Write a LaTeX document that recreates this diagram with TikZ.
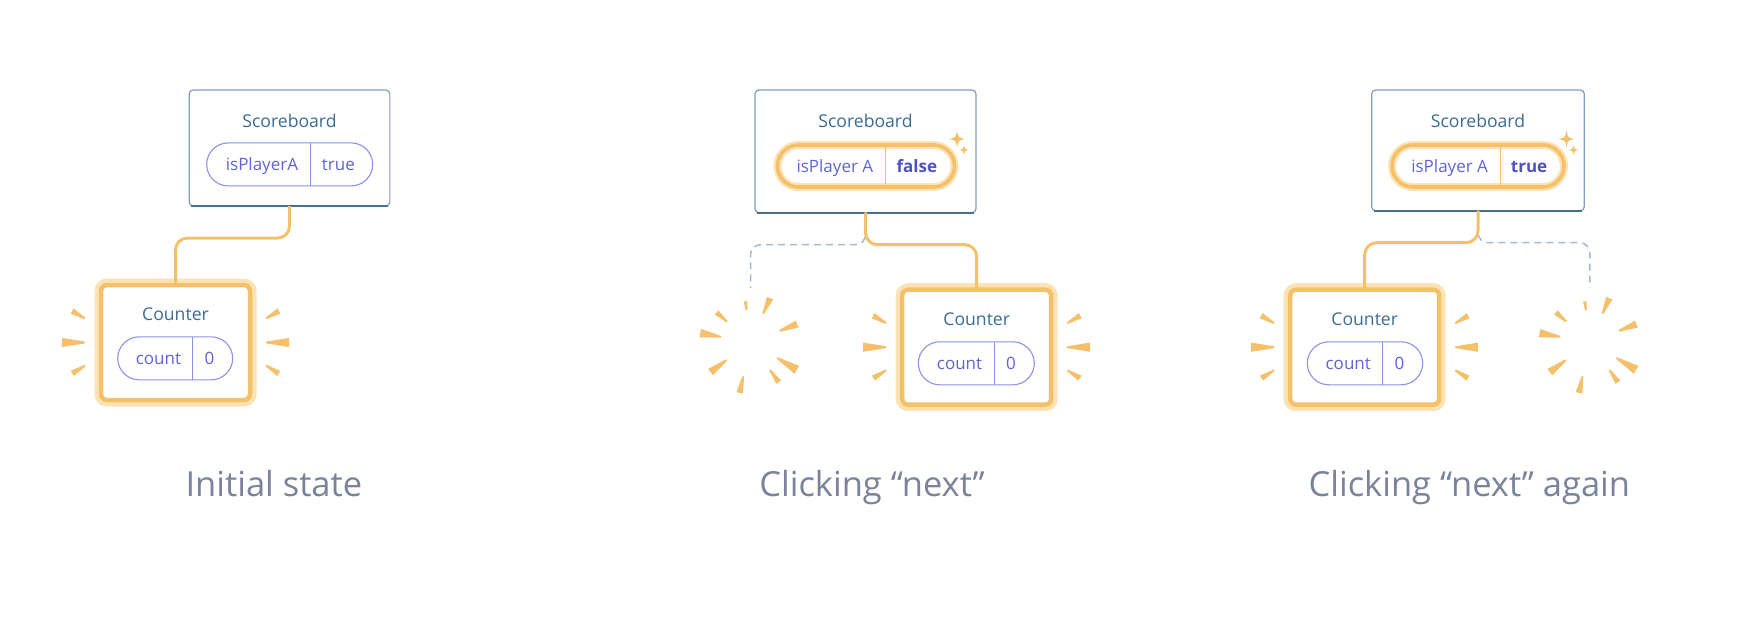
\documentclass[tikz,border=0pt]{standalone}
\usepackage{fontspec}
\setmainfont{Open Sans}
\usetikzlibrary{positioning, calc}

\definecolor{sbline}{HTML}{7F9DBB}
\definecolor{sbdark}{HTML}{46708F}
\definecolor{titleblue}{HTML}{3B6C94}
\definecolor{pillline}{HTML}{8E92E4}
\definecolor{pilltext}{HTML}{6064D6}
\definecolor{pillbold}{HTML}{4F52C2}
\definecolor{glowor}{HTML}{F4C16A}
\definecolor{glowlight}{HTML}{FBE3B5}
\definecolor{ghostline}{HTML}{9EBBD6}
\definecolor{captiongray}{HTML}{7A8399}

\newcommand{\titlefont}{\fontsize{17.6pt}{21pt}\selectfont}
\newcommand{\pillfont}{\fontsize{17pt}{20pt}\selectfont}
\newcommand{\capfont}{\fontsize{34.5pt}{40pt}\selectfont}

\newcommand{\burstray}[4]{\fill[spark, shift={#1}, rotate=#2] (#3,-0.9) -- (#4,{-0.2*(#4-#3)}) -- (#4,{0.2*(#4-#3)}) -- (#3,0.9) -- cycle;}
\newcommand{\sparkle}[2]{\fill[spark, shift={#1}] (0,-#2) .. controls ({0.18*#2},{-0.18*#2}) .. (#2,0) .. controls ({0.18*#2},{0.18*#2}) .. (0,#2) .. controls ({-0.18*#2},{0.18*#2}) .. (-#2,0) .. controls ({-0.18*#2},{-0.18*#2}) .. (0,-#2) -- cycle;}

\begin{document}
\begin{tikzpicture}[x=1pt, y=-1pt,
		sbbox/.style={rectangle, draw=sbline, fill=white, line width=1.2pt, rounded corners=4pt, inner sep=0pt, outer sep=0pt, anchor=north},
		sbbase/.style={draw=sbdark, line width=2.2pt},
		ctrbox/.style={rectangle, draw=glowor, fill=white, line width=4.5pt, rounded corners=6pt, preaction={draw=glowlight, line width=13pt}, inner sep=0pt, outer sep=0pt, minimum width=149pt, minimum height=115pt},
		title/.style={inner sep=0pt, text height=12.5pt, text depth=0pt, font=\titlefont, text=titleblue},
		pillcell/.style={inner sep=0pt, outer sep=0pt, minimum height=43pt, text height=12.1pt, text depth=0pt, font=\pillfont, text=pilltext},
		pillkey/.style={pillcell, execute at begin node=\hspace*{6.5pt}},
		pillval/.style={pillcell, execute at end node=\hspace*{6.5pt}},
		hotval/.style={pillval, font=\pillfont\bfseries, text=pillbold},
		pillring/.style={draw=pillline, line width=1.1pt, rounded corners=21.5pt},
		hotring/.style={draw=glowor, line width=3.6pt, rounded corners=21pt, preaction={draw=glowlight, line width=8pt}},
		pilldiv/.style={draw=pillline, line width=1.1pt},
		hotdiv/.style={draw=glowor, line width=1pt},
		wire/.style={draw=glowor, line width=3pt, rounded corners=12pt},
		ghostwire/.style={draw=ghostline, line width=1.5pt, dash pattern=on 7pt off 5pt, rounded corners=10pt},
		spark/.style={fill=glowor},
		caption/.style={inner sep=0pt, text height=24pt, text depth=0pt, font=\capfont, text=captiongray}
	]

	\useasboundingbox (0,0) rectangle (1738,622);

	\node[sbbox, minimum width=200.7pt, minimum height=116pt] (sb1) at (289.5,90) {};
	\node[title, below=24.3pt of sb1.north] (sbt1) {Scoreboard};
	\node[pillkey, minimum width=104pt, anchor=east] (k1) at (310.7,164.4) {isPlayerA};
	\node[pillval, minimum width=62pt, right=0pt of k1] (v1) {true};
	\node[ctrbox] (ctr1) at (175.5,342.5) {};
	\node[title, below=22.7pt of ctr1.north] (ctrt1) {Counter};
	\node[pillkey, minimum width=75pt, anchor=east] (ck1) at (192.7,358.3) {count};
	\node[pillval, minimum width=40pt, right=0pt of ck1] (cv1) {0};
	\node[caption] (cap1) at (273.9,484) {Initial state};

	\node[sbbox, minimum width=221pt, minimum height=122.7pt] (sb2) at (865.5,90) {};
	\node[title, below=24.3pt of sb2.north] (sbt2) {Scoreboard};
	\node[pillkey, minimum width=108.2pt, minimum height=42pt, anchor=east] (k2) at (885.7,166) {isPlayer A};
	\node[hotval, minimum width=68.8pt, minimum height=42pt, right=0pt of k2] (v2) {false};
	\node[ctrbox] (ctr2) at (976.7,347.2) {};
	\node[title, below=22.7pt of ctr2.north] (ctrt2) {Counter};
	\node[pillkey, minimum width=76pt, anchor=east] (ck2) at (994.3,363.3) {count};
	\node[pillval, minimum width=40pt, right=0pt of ck2] (cv2) {0};
	\coordinate (gh2) at (750.5,342);
	\coordinate[above=54pt of gh2] (ghtop2);
	\node[caption] (cap2) at (872,484) {Clicking “next”};

	\node[sbbox, minimum width=212.6pt, minimum height=120.7pt] (sb3) at (1478,90) {};
	\node[title, below=24.3pt of sb3.north] (sbt3) {Scoreboard};
	\node[pillkey, minimum width=108.7pt, minimum height=42pt, anchor=east] (k3) at (1500.7,166) {isPlayer A};
	\node[hotval, minimum width=63.3pt, minimum height=42pt, right=0pt of k3] (v3) {true};
	\node[ctrbox] (ctr3) at (1364.7,347.2) {};
	\node[title, below=22.7pt of ctr3.north] (ctrt3) {Counter};
	\node[pillkey, minimum width=75.4pt, anchor=east] (ck3) at (1382.7,363.3) {count};
	\node[pillval, minimum width=40pt, right=0pt of ck3] (cv3) {0};
	\coordinate (gh3) at (1589.8,342);
	\coordinate[above=54pt of gh3] (ghtop3);
	\node[caption] (cap3) at (1469.3,484) {Clicking “next” again};

	\foreach \i in {sb1, sb2, sb3}
		\draw[sbbase] ([xshift=2pt]\i.south west) -- ([xshift=-2pt]\i.south east);

	\foreach \i/\j in {k1/v1, ck1/cv1, ck2/cv2, ck3/cv3} {
		\draw[pillring] (\i.north west) rectangle (\j.south east);
		\draw[pilldiv] (\i.north east) -- (\i.south east);
	}

	\foreach \i/\j in {k2/v2, k3/v3} {
		\draw[hotring] (\i.north west) rectangle (\j.south east);
		\draw[hotdiv] (\i.north east) -- (\i.south east);
		\sparkle{($(\j.north east)+(2.5,-6)$)}{8}
		\sparkle{($(\j.north east)+(9.5,5)$)}{5}
	}

	\foreach \i/\j in {sb2/ghtop2, sb3/ghtop3}
		\draw[ghostwire] (\i.south) -- ++(0,32) -| (\j);

	\foreach \i/\j in {sb1/ctr1, sb2/ctr2, sb3/ctr3}
		\draw[wire] (\i.south) -- ++(0,32) -| (\j.north);

	\foreach \c in {ctr1, ctr2, ctr3}
		\foreach \dy/\ar/\al/\l in {-24/30/150/15, 0/0/180/23, 23/-32/212/15} {
			\burstray{($(\c.east)+(16,\dy)$)}{\ar}{0}{\l}
			\burstray{($(\c.west)+(-16,\dy)$)}{\al}{0}{\l}
		}

	\foreach \g in {gh2, gh3}
		\foreach \a/\ri/\ro in {97/32/41, 66/31/48, 21/31/50, -31/31/54, -55/34/49, -102/35/52, 217/30/50, 170/30/51, 139/31/45} {
			\burstray{(\g)}{\a}{\ri}{\ro}
		}

\end{tikzpicture}
\end{document}
